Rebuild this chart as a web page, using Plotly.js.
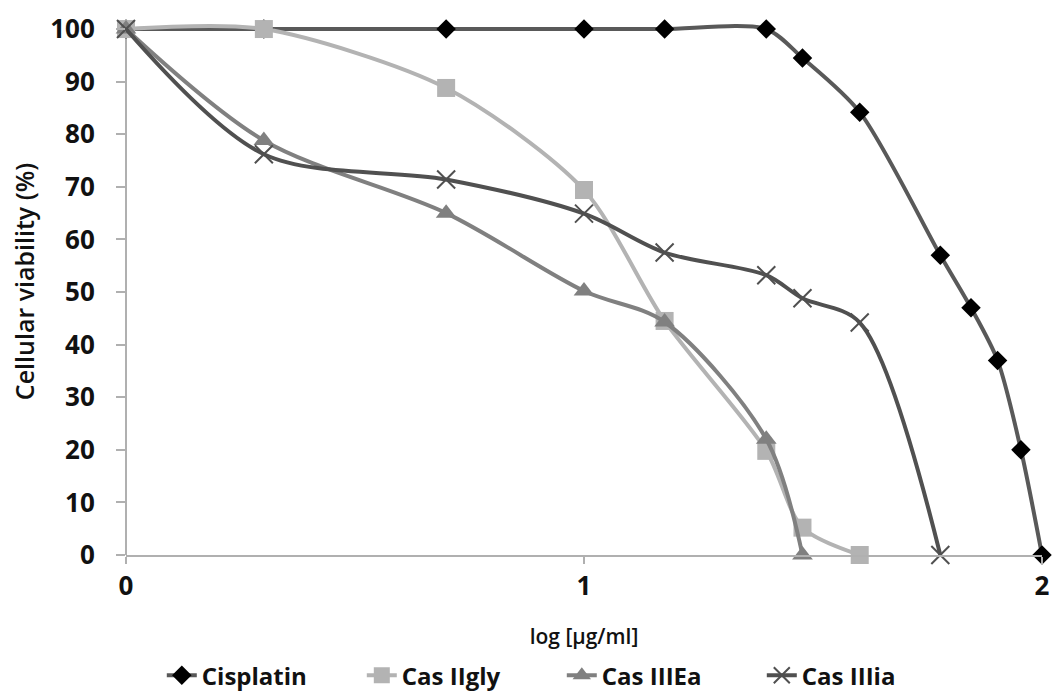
<!DOCTYPE html>
<html>
<head>
<meta charset="utf-8">
<script src="https://cdn.plot.ly/plotly-3.0.1.min.js"></script>
<style>html,body{margin:0;padding:0;background:#fff;}#chart{width:1060px;height:698px;}</style>
</head>
<body>
<div id="chart"></div>
<script>
const cisX = [0, 0.301, 0.699, 1, 1.176, 1.398, 1.477, 1.602, 1.778, 1.845, 1.903, 1.954, 2];
const cisY = [100, 100, 100, 100, 100, 100, 94.5, 84.2, 57, 47, 37, 20, 0];
const glyX = [0, 0.301, 0.699, 1, 1.176, 1.398, 1.477, 1.602];
const glyY = [100, 100, 88.8, 69.4, 44.5, 19.8, 5.2, 0];
const eaX = [0, 0.301, 0.699, 1, 1.176, 1.398, 1.477];
const eaY = [100, 78.8, 65, 50.2, 44.3, 22, 0];
const iaX = [0, 0.301, 0.699, 1, 1.176, 1.398, 1.477, 1.602, 1.778];
const iaY = [100, 76.2, 71.4, 64.9, 57.5, 53.2, 48.8, 44.2, 0];
const names = ["Cisplatin", "Cas IIgly", "Cas IIIEa", "Cas IIIia"];
const xTicks = [0, 1, 2];
const yTicks = [0, 10, 20, 30, 40, 50, 60, 70, 80, 90, 100];

const FONT = "Open Sans, Noto Sans, sans-serif";
function tr(x, y, name, lineColor, mSym, mColor, mSize, mLine, sm) {
  return {
    x: x, y: y, name: name, type: "scatter", mode: "lines+markers",
    cliponaxis: false,
    line: {color: lineColor, width: 4, shape: "spline", smoothing: sm},
    marker: {symbol: mSym, color: mColor, size: mSize, line: mLine || {width: 0}}
  };
}
const data = [
  tr(cisX, cisY, names[0], "#595959", "diamond", "#000000", 15, null, 0.8),
  tr(glyX, glyY, names[1], "#b3b3b3", "square", "#b3b3b3", 18, null, 0.8),
  tr(eaX, eaY, names[2], "#808080", "triangle-up", "#808080", 18, null, 0.9),
  tr(iaX, iaY, names[3], "#505050", "x-thin", "#505050", 18, {width: 2, color: "#505050"}, 0.9)
];
const layout = {
  width: 1060, height: 698,
  margin: {l: 126, r: 18, t: 8, b: 143, autoexpand: false},
  paper_bgcolor: "#fff", plot_bgcolor: "#fff",
  font: {family: FONT, color: "#111", size: 18},
  showlegend: true,
  legend: {orientation: "h", x: 0.53, xanchor: "center", xref: "container",
           y: 0.032, yanchor: "middle", yref: "container", entrywidth: 155,
           font: {size: 24, family: FONT, color: "#111", weight: 700}, tracegroupgap: 0},
  shapes: [{type: "line", xref: "paper", x0: 0, x1: 0, yref: "y", y0: 0, y1: 100,
            line: {color: "#b0b0b0", width: 2}, layer: "below"}],
  xaxis: {
    range: [0, 2], tickvals: xTicks, ticktext: xTicks.map(String), automargin: false,
    showgrid: false, zeroline: false, showline: true, linecolor: "#b0b0b0", linewidth: 2,
    ticks: "outside", ticklen: 7, tickcolor: "#b0b0b0", tickwidth: 2,
    tickfont: {size: 26, family: FONT, weight: 700, color: "#111"},
    title: {text: "log [µg/ml]", font: {size: 21, family: FONT, weight: 600, color: "#111"}, standoff: 27}
  },
  yaxis: {
    range: [0, 104], tickvals: yTicks, automargin: false,
    showgrid: false, zeroline: false, showline: false,
    ticks: "outside", ticklen: 9, tickcolor: "#b0b0b0", tickwidth: 2, ticklabelstandoff: 16,
    tickfont: {size: 26, family: FONT, weight: 700, color: "#111"},
    title: {text: "Cellular viability (%)", font: {size: 25, family: FONT, weight: 600, color: "#111"}, standoff: 8}
  }
};
Plotly.newPlot("chart", data, layout, {displayModeBar: false, staticPlot: true});
</script>
</body>
</html>
